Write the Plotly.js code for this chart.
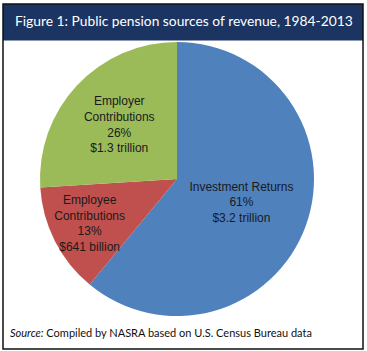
<!DOCTYPE html>
<html>
<head>
<meta charset="utf-8">
<script src="https://cdn.plot.ly/plotly-3.0.1.min.js"></script>
<style>html,body{margin:0;padding:0;background:#fff;}#chart{width:367px;height:351px;}</style>
</head>
<body>
<div id="chart"></div>
<script>
const categories = ["Investment Returns", "Employee<br>Contributions", "Employer<br>Contributions"];
const percents = [61, 13, 26];
const amounts = ["$3.2 trillion", "$641 billion", "$1.3 trillion"];
const colors = ["#4F81BD", "#C0504D", "#9BBB59"];

const W = 367, H = 351;
const labelText = categories.map((c, i) => c + "<br>" + percents[i] + "%<br>" + amounts[i]);

const trace = {
  type: "pie",
  values: percents,
  labels: categories.map(c => c.replace("<br>", " ")),
  text: labelText,
  textinfo: "text",
  textposition: "inside",
  insidetextorientation: "horizontal",
  hoverinfo: "none",
  sort: false,
  direction: "clockwise",
  rotation: 0,
  marker: {colors: colors, line: {width: 0}},
  insidetextfont: {family: "Arial, Liberation Sans, sans-serif", size: 12, color: "#1a1a1a"},
  domain: {x: [40 / W, 314 / W], y: [35 / H, 309 / H]},
  showlegend: false
};

const layout = {
  width: W, height: H,
  margin: {l: 0, r: 0, t: 0, b: 0, pad: 0},
  paper_bgcolor: "#ffffff",
  showlegend: false,
  uniformtext: {mode: "show", minsize: 12},
  title: {
    text: "Figure 1: Public pension sources of revenue, 1984-2013",
    font: {family: "Lato, Open Sans, sans-serif", size: 13.8, color: "#ffffff"},
    x: 15 / W, xanchor: "left",
    y: 1 - 21 / H, yanchor: "middle", yref: "container", xref: "container"
  },
  shapes: [
    {type: "rect", xref: "paper", yref: "paper", x0: 3 / W, x1: 363 / W, y0: 1 - 40.5 / H, y1: 1 - 4 / H,
     fillcolor: "#1B3462", line: {width: 0}, layer: "below"},
    {type: "rect", xref: "paper", yref: "paper", x0: 3 / W, x1: 363 / W, y0: 1 - 349 / H, y1: 1 - 4 / H,
     fillcolor: "rgba(0,0,0,0)", line: {color: "#111111", width: 1.5}}
  ],
  annotations: [
    {text: "<i>Source:</i> Compiled by NASRA based on U.S. Census Bureau data",
     xref: "paper", yref: "paper", x: 8 / W, y: 1 - 332 / H, xanchor: "left", yanchor: "middle",
     showarrow: false, font: {family: "Lato, Open Sans, sans-serif", size: 11, color: "#111111"}}
  ]
};

Plotly.newPlot("chart", [trace], layout, {displayModeBar: false, staticPlot: true});
</script>
</body>
</html>
